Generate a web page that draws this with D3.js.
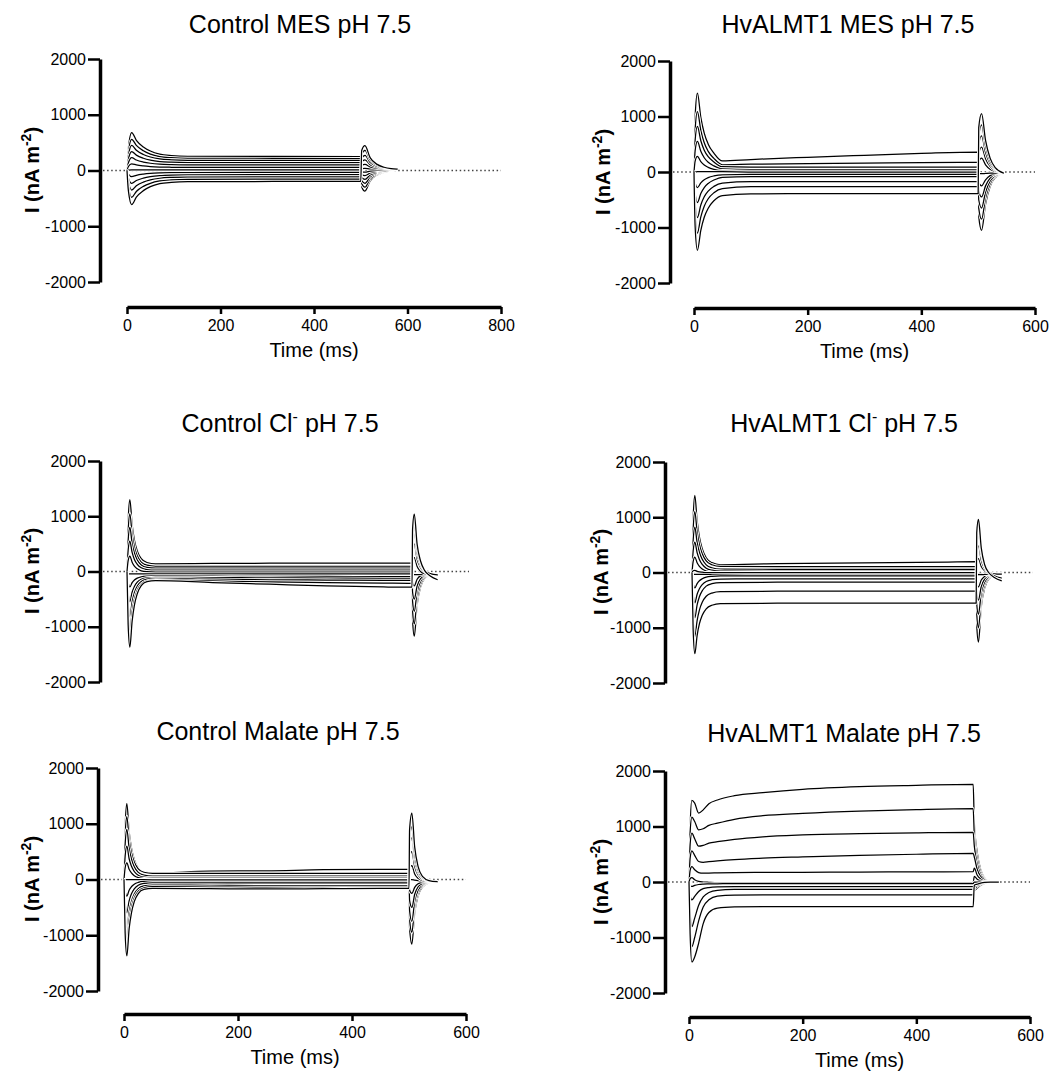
<!DOCTYPE html>
<html><head><meta charset="utf-8">
<script src="https://cdn.jsdelivr.net/npm/d3@7"></script>
<style>body{margin:0;background:#fff} svg{display:block}</style>
</head><body>
<svg id="c" width="1059" height="1075"></svg>
<script>
// ---------- shared axis data ----------
const yTicks = [-2000, -1000, 0, 1000, 2000];
const xTicks800 = [0, 200, 400, 600, 800];
const xTicks600 = [0, 200, 400, 600];
const xLabel = "Time (ms)";
const yLabelMain = "I (nA m";
const yLabelSup = "-2";

// panel titles: [text, superscript, rest]
const titleCtrlMES = ["Control MES pH 7.5", "", ""];
const titleHvMES = ["HvALMT1 MES pH 7.5", "", ""];
const titleCtrlCl = ["Control Cl", "-", " pH 7.5"];
const titleHvCl = ["HvALMT1 Cl", "-", " pH 7.5"];
const titleCtrlMal = ["Control Malate pH 7.5", "", ""];
const titleHvMal = ["HvALMT1 Malate pH 7.5", "", ""];

// ---------- Control MES (time ms / current nA m-2) ----------
const tCtrlMES = [0, 3, 10, 20, 35, 50, 70, 95, 130, 500, 502, 509, 520, 535, 550, 565, 578];
const iCtrlMES = [
  [0, 408, 680, 542, 422, 349, 293, 267, 254, 250, -290, -370, -185, -80, -35, -5, 25],
  [0, 336, 560, 450, 353, 294, 250, 229, 218, 215, -235, -300, -150, -65, -28, -3, 25],
  [0, 270, 450, 364, 288, 242, 207, 191, 183, 180, -180, -230, -115, -50, -20, 0, 25],
  [0, 204, 340, 276, 220, 186, 160, 148, 142, 140, -125, -160, -80, -35, -12, 5, 25],
  [0, 138, 230, 188, 152, 130, 113, 105, 101, 100, -70, -90, -45, -18, -5, 8, 25],
  [0, 72, 120, 99, 81, 70, 62, 58, 56, 55, -20, -30, -12, 0, 10, 15, 25],
  [0, 6, 10, 10, 10, 10, 10, 10, 10, 10, 35, 40, 30, 28, 26, 25, 25],
  [0, -66, -110, -86, -65, -52, -43, -38, -36, -35, 90, 110, 65, 40, 30, 26, 25],
  [0, -138, -230, -180, -137, -111, -91, -81, -77, -75, 150, 190, 105, 60, 38, 28, 25],
  [0, -210, -350, -275, -209, -169, -139, -124, -117, -115, 215, 270, 145, 75, 45, 30, 25],
  [0, -288, -480, -376, -285, -230, -188, -168, -158, -155, 290, 360, 190, 95, 52, 32, 25],
  [0, -366, -610, -477, -361, -290, -237, -212, -199, -195, 360, 446, 230, 110, 58, 34, 25]
];

// ---------- HvALMT1 MES ----------
const tHvMES = [0, 2, 6, 12, 18, 25, 35, 50, 100, 200, 300, 400, 500, 501, 506, 513, 521, 530, 545];
const iHvMES = [
  [0, 994, 1420, 986, 701, 502, 341, 200, 225, 265, 300, 335, 360, -800, -1050, -580, -260, -100, -20],
  [0, 763, 1090, 750, 527, 372, 246, 130, 140, 150, 160, 170, 175, -650, -850, -470, -210, -80, -20],
  [0, 574, 820, 563, 394, 276, 181, 95, 90, 90, 90, 90, 90, -500, -650, -360, -160, -65, -20],
  [0, 385, 550, 373, 257, 176, 111, 55, 45, 45, 45, 45, 45, -340, -450, -250, -110, -45, -20],
  [0, 196, 280, 187, 126, 84, 49, 25, 15, 15, 15, 15, 15, -190, -250, -140, -65, -30, -20],
  [0, 0, 5, 5, 5, 5, 5, 5, 0, 0, 0, 0, 0, -20, -30, -25, -20, -20, -20],
  [0, -196, -280, -196, -141, -102, -71, -50, -45, -45, -45, -45, -45, 190, 250, 130, 50, 10, -20],
  [0, -385, -550, -387, -280, -206, -145, -95, -85, -85, -85, -85, -85, 340, 450, 240, 100, 25, -20],
  [0, -574, -820, -594, -446, -343, -259, -200, -175, -175, -175, -175, -175, 500, 650, 350, 150, 45, -20],
  [0, -770, -1100, -808, -616, -482, -374, -300, -265, -265, -265, -265, -265, 650, 850, 460, 200, 60, -20],
  [0, -987, -1410, -1051, -815, -652, -518, -425, -395, -390, -390, -390, -390, 800, 1050, 570, 250, 80, -20]
];

// ---------- Control Cl- ----------
const tCtrlCl = [0, 2, 5, 9, 13, 18, 25, 35, 50, 150, 250, 350, 450, 500, 501, 504, 509, 515, 522, 532, 545];
const iCtrlCl = [
  [0, 910, 1300, 848, 569, 372, 233, 163, 140, 145, 150, 150, 150, 150, -880, -1170, -600, -280, -130, -70, -60],
  [0, 730, 1045, 675, 447, 285, 171, 114, 95, 95, 95, 95, 95, 95, -710, -950, -490, -230, -110, -70, -60],
  [0, 560, 800, 511, 334, 208, 119, 75, 60, 60, 60, 60, 60, 60, -540, -720, -370, -180, -90, -65, -60],
  [0, 385, 550, 345, 219, 130, 67, 36, 25, 25, 25, 25, 25, 25, -375, -500, -260, -130, -75, -60, -60],
  [0, 196, 280, 167, 97, 48, 13, -4, -10, -10, -10, -10, -10, -10, -195, -260, -140, -80, -65, -60, -60],
  [0, -40, -45, -45, -45, -45, -45, -45, -45, -45, -45, -45, -45, -45, -50, -55, -55, -55, -55, -55, -55],
  [0, -196, -280, -202, -154, -120, -96, -84, -80, -85, -90, -90, -95, -95, 170, 250, 90, 0, -40, -55, -60],
  [0, -385, -550, -376, -270, -194, -141, -114, -105, -110, -115, -120, -125, -125, 360, 500, 220, 70, -10, -50, -60],
  [0, -574, -820, -549, -382, -264, -181, -139, -125, -140, -150, -155, -160, -160, 530, 720, 330, 120, 10, -45, -60],
  [0, -770, -1100, -730, -502, -340, -226, -169, -150, -170, -190, -200, -210, -215, 660, 900, 420, 160, 20, -40, -60],
  [0, -960, -1370, -898, -608, -402, -257, -184, -165, -200, -230, -260, -280, -285, 770, 1040, 490, 190, 20, -80, -150]
];

// ---------- HvALMT1 Cl- ----------
const tHvCl = [0, 2, 5, 9, 13, 18, 25, 35, 50, 150, 250, 350, 450, 500, 501, 504, 509, 515, 522, 532, 545];
const iHvCl = [
  [0, 975, 1395, 939, 647, 431, 266, 178, 140, 160, 170, 180, 190, 195, -950, -1260, -620, -280, -120, -50, -30],
  [0, 770, 1100, 740, 510, 340, 210, 140, 110, 105, 105, 105, 105, 105, -750, -1000, -490, -220, -95, -45, -30],
  [0, 574, 820, 545, 369, 239, 139, 86, 63, 55, 55, 55, 55, 55, -570, -760, -370, -170, -75, -40, -30],
  [0, 385, 550, 359, 237, 147, 78, 41, 25, 20, 20, 20, 20, 20, -375, -500, -250, -115, -55, -35, -30],
  [0, 196, 280, 177, 112, 63, 26, 6, -2, -5, -5, -5, -5, -5, -195, -260, -135, -70, -40, -30, -30],
  [0, 30, 40, 20, 10, 5, 0, 0, 0, 0, 0, 0, 0, 0, -20, -30, -30, -30, -30, -30, -30],
  [0, -30, -35, -35, -35, -35, -35, -35, -35, -35, -35, -35, -35, -35, -35, -40, -40, -35, -30, -30, -30],
  [0, -196, -280, -201, -150, -113, -84, -69, -62, -60, -60, -60, -60, -60, 180, 250, 110, 30, -10, -25, -30],
  [0, -385, -550, -393, -293, -219, -162, -131, -118, -114, -114, -114, -114, -114, 350, 480, 220, 70, 0, -25, -30],
  [0, -574, -820, -588, -440, -331, -247, -202, -182, -176, -176, -176, -176, -176, 520, 700, 330, 110, 10, -25, -30],
  [0, -820, -1170, -871, -680, -538, -430, -372, -347, -339, -339, -339, -339, -339, 640, 860, 400, 130, 10, -60, -100],
  [0, -1030, -1470, -1141, -931, -775, -657, -593, -565, -556, -556, -556, -556, -556, 720, 960, 440, 140, 0, -90, -150]
];

// ---------- Control Malate ----------
const tCtrlMal = [0, 2, 5, 9, 13, 18, 25, 35, 50, 150, 250, 350, 450, 500, 501, 505, 510, 516, 524, 535, 550];
const iCtrlMal = [
  [0, 950, 1360, 860, 573, 360, 210, 135, 115, 150, 155, 175, 180, 180, -870, -1160, -600, -290, -130, -60, -40],
  [0, 790, 1130, 722, 487, 314, 192, 130, 110, 110, 110, 110, 110, 110, -710, -950, -490, -240, -110, -55, -40],
  [0, 630, 900, 564, 371, 228, 127, 77, 60, 60, 60, 60, 60, 60, -560, -750, -390, -190, -90, -50, -40],
  [0, 420, 600, 372, 241, 144, 76, 41, 30, 30, 30, 30, 30, 30, -375, -500, -265, -130, -70, -45, -40],
  [0, 210, 300, 184, 117, 68, 33, 16, 10, 10, 10, 10, 10, 10, -190, -250, -140, -75, -50, -42, -40],
  [0, 0, 0, 0, 0, 0, 0, 0, 0, 0, 0, 0, 0, 0, 0, 0, -10, -20, -30, -40, -40],
  [0, -210, -300, -192, -130, -84, -52, -35, -30, -30, -30, -30, -30, -30, 180, 250, 100, 20, -20, -35, -40],
  [0, -420, -600, -384, -260, -168, -103, -71, -60, -60, -60, -60, -60, -60, 370, 500, 230, 80, 0, -30, -40],
  [0, -630, -900, -580, -396, -260, -164, -116, -100, -105, -110, -110, -110, -110, 560, 750, 350, 130, 20, -25, -40],
  [0, -790, -1130, -730, -500, -330, -210, -150, -130, -135, -140, -140, -140, -140, 710, 950, 450, 170, 30, -25, -40],
  [0, -960, -1370, -884, -605, -398, -252, -179, -160, -165, -170, -165, -160, -160, 890, 1190, 580, 230, 50, -20, -40]
];

// ---------- HvALMT1 Malate ----------
const tHvMal = [0, 2, 5, 10, 17, 25, 35, 50, 80, 130, 200, 300, 400, 500, 502, 507, 513, 520, 530, 545];
const iHvMal = [
  [0, 1000, 1470, 1420, 1240, 1300, 1410, 1478, 1555, 1610, 1670, 1718, 1742, 1760, 1070, 540, 230, 80, 20, 0],
  [0, 900, 1170, 1090, 940, 960, 1020, 1060, 1130, 1195, 1237, 1279, 1305, 1321, 850, 430, 185, 65, 15, 0],
  [0, 680, 880, 780, 645, 660, 700, 727, 770, 815, 847, 870, 885, 895, 650, 330, 140, 50, 10, 0],
  [0, 430, 560, 480, 370, 355, 365, 380, 405, 430, 452, 480, 500, 516, 450, 230, 100, 35, 5, 0],
  [0, 210, 275, 220, 170, 158, 160, 165, 170, 172, 175, 180, 183, 186, 250, 125, 55, 15, 0, 0],
  [0, 60, 80, 40, 10, 0, -5, -10, -10, -10, -10, -10, -10, -10, 100, 50, 20, 5, 0, 0],
  [0, -60, -80, -60, -45, -38, -35, -32, -30, -30, -30, -30, -30, -30, 0, 0, 0, 0, 0, 0],
  [0, -250, -324, -260, -170, -120, -100, -90, -85, -84, -84, -84, -84, -84, -150, -110, -60, -25, -5, 0],
  [0, -560, -805, -650, -420, -270, -190, -150, -135, -132, -132, -132, -132, -132, -120, -80, -40, -15, 0, 0],
  [0, -820, -1165, -1000, -700, -450, -320, -255, -238, -234, -234, -234, -234, -234, -90, -60, -30, -10, 0, 0],
  [0, -950, -1440, -1350, -1100, -750, -550, -470, -450, -444, -444, -444, -444, -444, -60, -40, -20, -5, 0, 0]
];

// ---------- layout ----------
const FONT = "'Liberation Sans', Arial, Helvetica, sans-serif";
const svg = d3.select("#c");

const panels = [
  {title: titleCtrlMES, t: tCtrlMES, I: iCtrlMES, xMax: 800, xTicks: xTicks800, ax: 100, yt: 59, yb: 282, x0: 127, x1: 501, xAxisY: 307, tx: 300, ty: 33, lx: 39, ly: 170},
  {title: titleHvMES, t: tHvMES, I: iHvMES, xMax: 600, xTicks: xTicks600, ax: 670, yt: 61, yb: 283, x0: 694, x1: 1035, xAxisY: 308, tx: 848, ty: 33, lx: 610, ly: 172},
  {title: titleCtrlCl, t: tCtrlCl, I: iCtrlCl, xMax: 600, xTicks: null, ax: 100, yt: 461, yb: 682, x0: 127, x1: 469, xAxisY: null, tx: 280, ty: 432, lx: 39, ly: 571},
  {title: titleHvCl, t: tHvCl, I: iHvCl, xMax: 600, xTicks: null, ax: 665, yt: 462, yb: 683, x0: 692, x1: 1033, xAxisY: null, tx: 844, ty: 432, lx: 608, ly: 572},
  {title: titleCtrlMal, t: tCtrlMal, I: iCtrlMal, xMax: 600, xTicks: xTicks600, ax: 98, yt: 768, yb: 991, x0: 124, x1: 466, xAxisY: 1014, tx: 278, ty: 740, lx: 39, ly: 879},
  {title: titleHvMal, t: tHvMal, I: iHvMal, xMax: 600, xTicks: xTicks600, ax: 665, yt: 771, yb: 993, x0: 689, x1: 1030, xAxisY: 1017, tx: 844, ty: 742, lx: 608, ly: 882}
];

const fmt = d => String(d); // plain hyphen-minus, as in the reference

function styleAxis(g, fs) {
  g.attr("font-family", FONT).attr("font-size", fs);
  g.select(".domain").attr("stroke", "#000").attr("stroke-width", 3.5);
  g.selectAll(".tick line").attr("stroke", "#000").attr("stroke-width", 2.5);
  g.selectAll(".tick text").attr("fill", "#000");
}

panels.forEach(p => {
  const g = svg.append("g");
  const x = d3.scaleLinear().domain([0, p.xMax]).range([p.x0, p.x1]);
  const y = d3.scaleLinear().domain([-2000, 2000]).range([p.yb, p.yt]);

  // zero reference line (dotted)
  g.append("line")
    .attr("x1", p.ax + 3).attr("x2", x(p.xMax))
    .attr("y1", y(0)).attr("y2", y(0))
    .attr("stroke", "#444").attr("stroke-width", 1.3)
    .attr("stroke-dasharray", "1.5 2.6");

  // current traces
  const line = d3.line()
    .x((d, i) => x(p.t[i]))
    .y(d => y(d))
    .curve(d3.curveMonotoneX);
  p.I.forEach(tr => {
    g.append("path").attr("d", line(tr)).attr("fill", "none")
      .attr("stroke", "#fff").attr("stroke-width", 3).attr("stroke-linejoin", "round");
    g.append("path").attr("d", line(tr)).attr("fill", "none")
      .attr("stroke", "#000").attr("stroke-width", 1.25).attr("stroke-linejoin", "round");
  });

  // y axis
  const ya = g.append("g").attr("transform", `translate(${p.ax},0)`)
    .call(d3.axisLeft(y).tickValues(yTicks).tickSize(12).tickPadding(2).tickSizeOuter(0).tickFormat(fmt));
  styleAxis(ya, 16);

  // x axis
  if (p.xTicks) {
    const xa = g.append("g").attr("transform", `translate(0,${p.xAxisY})`)
      .call(d3.axisBottom(x).tickValues(p.xTicks).tickSize(7).tickPadding(6).tickSizeOuter(0).tickFormat(fmt));
    styleAxis(xa, 16);
    g.append("text").attr("x", (p.x0 + p.x1) / 2).attr("y", p.xAxisY + 50)
      .attr("text-anchor", "middle").attr("font-family", FONT).attr("font-size", 20)
      .attr("fill", "#000").text(xLabel);
  }

  // y label
  const yl = g.append("text")
    .attr("transform", `translate(${p.lx},${p.ly}) rotate(-90)`)
    .attr("text-anchor", "middle").attr("font-family", FONT).attr("font-size", 20)
    .attr("font-weight", "bold").attr("fill", "#000");
  yl.append("tspan").text(yLabelMain);
  yl.append("tspan").attr("font-size", 14).attr("dy", -8).text(yLabelSup);
  yl.append("tspan").attr("dy", 8).text(")");

  // title
  const tt = g.append("text").attr("x", p.tx).attr("y", p.ty)
    .attr("text-anchor", "middle").attr("font-family", FONT).attr("font-size", 25).attr("fill", "#000");
  tt.append("tspan").text(p.title[0]);
  if (p.title[1]) {
    tt.append("tspan").attr("font-size", 16).attr("dy", -10).text(p.title[1]);
    tt.append("tspan").attr("dy", 10).text(p.title[2]);
  }
});
</script></body></html>
